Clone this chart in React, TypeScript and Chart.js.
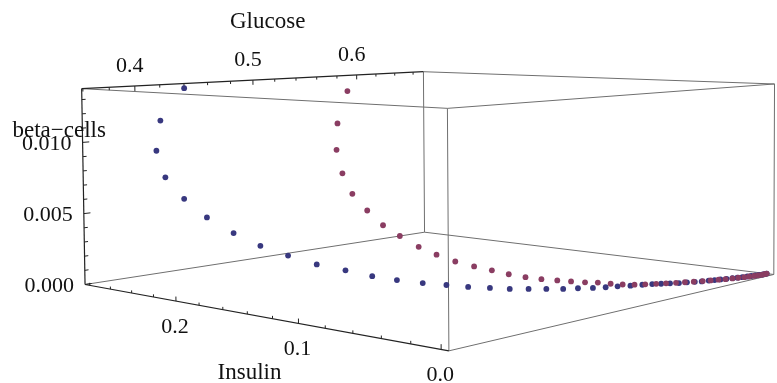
import { useEffect, useRef } from "react";
import { Chart, registerables } from "chart.js";

Chart.register(...registerables);

// ---------- data (glucose, insulin, beta-cells) ----------
const blueGlucose = [
  0.4401, 0.4201, 0.4165, 0.4235, 0.4388, 0.4579, 0.481, 0.505, 0.5231, 0.5089,
  0.5041, 0.4987, 0.498, 0.5005, 0.5047, 0.5081, 0.5142, 0.5194, 0.5269, 0.534,
  0.5407, 0.5485, 0.5553, 0.5624, 0.57, 0.5769, 0.5846, 0.5907, 0.5952, 0.6,
  0.6045, 0.6099, 0.6149, 0.619, 0.6243, 0.6283, 0.6329, 0.6373, 0.642, 0.6456,
  0.6493, 0.6536, 0.6569, 0.6602, 0.6635, 0.6668, 0.6691, 0.6715,
];
const blueInsulin = [
  0.2846, 0.2846, 0.2846, 0.2846, 0.2846, 0.2846, 0.2846, 0.2846, 0.2768, 0.2354,
  0.2048, 0.1765, 0.1551, 0.1362, 0.1209, 0.1067, 0.0949, 0.084, 0.0757, 0.0679,
  0.0605, 0.0554, 0.0494, 0.0452, 0.0419, 0.0374, 0.0341, 0.0311, 0.0277, 0.0245,
  0.0211, 0.0189, 0.0165, 0.0142, 0.0126, 0.0109, 0.0096, 0.008, 0.0067, 0.0054,
  0.0041, 0.0032, 0.0024, 0.0015, 0.0007, 0.0, 0.0, 0.0,
];
const blueBeta = [
  0.01342, 0.01115, 0.00897, 0.00697, 0.00523, 0.00364, 0.00218, 0.00091, 0, 0,
  0, 0, 0, 0, 0, 0, 0, 0, 0, 0,
  0, 0, 0, 0, 0, 0, 0, 0, 0, 0,
  0, 0, 0, 0, 0, 0, 0, 0, 0, 0,
  0, 0, 0, 0, 0, 0, 0, 0,
];
const redGlucose = [
  0.5904, 0.5801, 0.5789, 0.5846, 0.5945, 0.6097, 0.6262, 0.6442, 0.6126, 0.5933,
  0.5788, 0.5712, 0.5665, 0.5615, 0.5596, 0.5603, 0.563, 0.5657, 0.5685, 0.5731,
  0.5748, 0.5773, 0.5815, 0.587, 0.5929, 0.5984, 0.6039, 0.6094, 0.6148, 0.6203,
  0.6257, 0.6312, 0.6359, 0.641, 0.6457, 0.6501, 0.6544, 0.6585, 0.6621, 0.6654,
  0.6687, 0.6715,
];
const redInsulin = [
  0.2846, 0.2846, 0.2846, 0.2846, 0.2846, 0.2846, 0.2846, 0.2846, 0.2384, 0.2053,
  0.1765, 0.1542, 0.1357, 0.1181, 0.1034, 0.0916, 0.0815, 0.0731, 0.0647, 0.0585,
  0.0503, 0.0433, 0.0376, 0.0336, 0.0297, 0.0263, 0.0228, 0.02, 0.0172, 0.0143,
  0.0121, 0.0099, 0.0079, 0.0061, 0.0048, 0.0032, 0.0023, 0.0012, 0.0005, 0.0,
  0.0, 0.0,
];
const redBeta = [
  0.01249, 0.00992, 0.00779, 0.00583, 0.00406, 0.00253, 0.00112, 0, 0, 0,
  0, 0, 0, 0, 0, 0, 0, 0, 0, 0,
  0, 0, 0, 0, 0, 0, 0, 0, 0, 0,
  0, 0, 0, 0, 0, 0, 0, 0, 0, 0,
  0, 0,
];

// ---------- axes ----------
const glucoseRange = [0.3591, 0.6715];
const insulinRange = [-0.005, 0.2846];
const betaRange = [0, 0.01376];
const glucoseTicks = [0.4, 0.5, 0.6];
const glucoseTickLabels = ["0.4", "0.5", "0.6"];
const insulinTicks = [0.0, 0.1, 0.2];
const insulinTickLabels = ["0.0", "0.1", "0.2"];
const betaTicks = [0.0, 0.005, 0.01];
const betaTickLabels = ["0.000", "0.005", "0.010"];
const glucoseMinor = [0.36, 0.38, 0.42, 0.44, 0.46, 0.48, 0.52, 0.54, 0.56, 0.58, 0.62, 0.64, 0.66];
const insulinMinor = [0.02, 0.04, 0.06, 0.08, 0.12, 0.14, 0.16, 0.18, 0.22, 0.24, 0.26, 0.28];
const betaMinor = [0.001, 0.002, 0.003, 0.004, 0.006, 0.007, 0.008, 0.009, 0.011, 0.012, 0.013];
const axisTitles = { x: "Glucose", y: "Insulin", z: "beta\u2212cells" };

// ---------- view: where the box corners sit in the 777x383 frame ----------
type Corner = [[number, number, number], [number, number]];
const viewCorners: Corner[] = [
  [[0, 1, 1], [78, 87]],
  [[1, 1, 1], [424, 69]],
  [[1, 0, 1], [778, 81]],
  [[0, 0, 1], [449, 107]],
  [[0, 1, 0], [82, 285]],
  [[1, 1, 0], [425, 234]],
  [[1, 0, 0], [778, 276]],
  [[0, 0, 0], [449, 355]],
];

function solve(A: number[][], b: number[]): number[] {
  const n = b.length;
  const M = A.map((r, i) => [...r, b[i]]);
  for (let c = 0; c < n; c++) {
    let p = c;
    for (let r = c + 1; r < n; r++) if (Math.abs(M[r][c]) > Math.abs(M[p][c])) p = r;
    [M[c], M[p]] = [M[p], M[c]];
    for (let r = 0; r < n; r++)
      if (r !== c) {
        const f = M[r][c] / M[c][c];
        for (let k = c; k <= n; k++) M[r][k] -= f * M[c][k];
      }
  }
  return M.map((r, i) => r[n] / r[i]);
}
function fitCamera(): number[] {
  const rows: number[][] = [];
  const rhs: number[] = [];
  for (const [[u, v, w], [x, y]] of viewCorners) {
    rows.push([u, v, w, 1, 0, 0, 0, 0, -x * u, -x * v, -x * w]);
    rhs.push(x);
    rows.push([0, 0, 0, 0, u, v, w, 1, -y * u, -y * v, -y * w]);
    rhs.push(y);
  }
  const n = 11;
  const AtA = Array.from({ length: n }, () => Array(n).fill(0));
  const Atb = Array(n).fill(0);
  rows.forEach((r, k) => {
    for (let i = 0; i < n; i++) {
      Atb[i] += r[i] * rhs[k];
      for (let j = 0; j < n; j++) AtA[i][j] += r[i] * r[j];
    }
  });
  return solve(AtA, Atb);
}
const cam = fitCamera();
function projN(u: number, v: number, w: number): [number, number] {
  const d = cam[8] * u + cam[9] * v + cam[10] * w + 1;
  return [(cam[0] * u + cam[1] * v + cam[2] * w + cam[3]) / d, (cam[4] * u + cam[5] * v + cam[6] * w + cam[7]) / d];
}
const nu = (g: number) => (g - glucoseRange[0]) / (glucoseRange[1] - glucoseRange[0]);
const nv = (i: number) => (i - insulinRange[0]) / (insulinRange[1] - insulinRange[0]);
const nw = (b: number) => (b - betaRange[0]) / (betaRange[1] - betaRange[0]);
const toFrame = (gs: number[], is: number[], bs: number[]) =>
  gs.map((g, k) => {
    const [x, y] = projN(nu(g), nv(is[k]), nw(bs[k]));
    return { x, y };
  });

const BLUE = "#38387f";
const RED = "#8a3d62";
const FONT = "'Liberation Serif', 'Times New Roman', serif";

const boxPlugin = {
  id: "box3d",
  beforeDatasetsDraw(chart: any) {
    const { ctx } = chart;
    const sx = chart.scales.x;
    const sy = chart.scales.y;
    const P = (u: number, v: number, w: number): [number, number] => {
      const [x, y] = projN(u, v, w);
      return [sx.getPixelForValue(x), sy.getPixelForValue(y)];
    };
    const seg = (a: number[], b: number[], color: string, width = 1) => {
      const p = P(a[0], a[1], a[2]);
      const q = P(b[0], b[1], b[2]);
      ctx.beginPath();
      ctx.strokeStyle = color;
      ctx.lineWidth = width;
      ctx.moveTo(p[0], p[1]);
      ctx.lineTo(q[0], q[1]);
      ctx.stroke();
    };
    ctx.save();
    const A = [0, 1, 1], B = [1, 1, 1], Cc = [1, 0, 1], D = [0, 0, 1];
    const E = [0, 1, 0], F = [1, 1, 0], G = [1, 0, 0], H = [0, 0, 0];
    const grey = "#6f6f6f";
    [[B, Cc], [Cc, D], [D, A], [E, F], [F, G], [G, H], [B, F], [Cc, G], [D, H]].forEach(([a, b]) => seg(a, b, grey, 1));
    const dark = "#222";
    seg(A, B, dark, 1.2);
    seg(E, H, dark, 1.2);
    seg(A, E, dark, 1.2);
    // ticks
    glucoseTicks.forEach((g) => seg([nu(g), 1, 1], [nu(g), 1, 1 - 0.026], dark, 1));
    glucoseMinor.forEach((g) => seg([nu(g), 1, 1], [nu(g), 1, 1 - 0.015], dark, 1));
    insulinTicks.forEach((i) => seg([0, nv(i), 0], [0, nv(i), 0.022], dark, 1));
    insulinMinor.forEach((i) => seg([0, nv(i), 0], [0, nv(i), 0.013], dark, 1));
    betaTicks.forEach((b) => seg([0, 1, nw(b)], [0.016, 1, nw(b)], dark, 1));
    betaMinor.forEach((b) => seg([0, 1, nw(b)], [0.009, 1, nw(b)], dark, 1));
    ctx.restore();
  },
  afterDatasetsDraw(chart: any) {
    const { ctx } = chart;
    const sx = chart.scales.x;
    const sy = chart.scales.y;
    const P = (u: number, v: number, w: number): [number, number] => {
      const [x, y] = projN(u, v, w);
      return [sx.getPixelForValue(x), sy.getPixelForValue(y)];
    };
    ctx.save();
    ctx.fillStyle = "#111";
    ctx.font = `22px ${FONT}`;
    ctx.textAlign = "center";
    ctx.textBaseline = "middle";
    glucoseTicks.forEach((g, k) => {
      const [x, y] = P(nu(g), 1, 1);
      ctx.fillText(glucoseTickLabels[k], x - 5, y - 20);
    });
    insulinTicks.forEach((i, k) => {
      const [x, y] = P(0, nv(i), 0);
      ctx.fillText(insulinTickLabels[k], x - 1, y + 26);
    });
    ctx.textAlign = "right";
    betaTicks.forEach((b, k) => {
      const [x, y] = P(0, 1, nw(b));
      ctx.fillText(betaTickLabels[k], x - 11, y + 2);
    });
    ctx.font = `23px ${FONT}`;
    ctx.textAlign = "center";
    const [gx, gy] = P(0.5, 1, 1);
    ctx.fillText(axisTitles.x, gx - 2, gy - 57);
    const [ix, iy] = P(0, 0.5, 0);
    ctx.fillText(axisTitles.y, ix + 2, iy + 59);
    ctx.textAlign = "left";
    ctx.textBaseline = "alphabetic";
    const [bx, by] = P(0, 1, 0.75);
    ctx.fillText(axisTitles.z, bx - 70, by - 1);
    ctx.restore();
  },
};

export default function App() {
  const ref = useRef<HTMLCanvasElement>(null);
  useEffect(() => {
    const chart = new Chart(ref.current!, {
      type: "scatter",
      data: {
        datasets: [
          {
            label: "red",
            data: toFrame(redGlucose, redInsulin, redBeta),
            pointRadius: 2.9,
            pointBorderWidth: 0,
            pointBackgroundColor: RED,
            borderColor: RED,
            clip: false,
          } as any,
          {
            label: "blue",
            data: toFrame(blueGlucose, blueInsulin, blueBeta),
            pointRadius: 2.9,
            pointBorderWidth: 0,
            pointBackgroundColor: BLUE,
            borderColor: BLUE,
            clip: false,
          } as any,
        ],
      },
      options: {
        animation: false,
        responsive: true,
        maintainAspectRatio: false,
        events: [],
        layout: { padding: 0 },
        plugins: { legend: { display: false }, tooltip: { enabled: false } },
        scales: {
          x: { type: "linear", min: 0, max: 777, display: false },
          y: { type: "linear", min: 0, max: 383, reverse: true, display: false },
        },
      },
      plugins: [boxPlugin],
    });
    return () => chart.destroy();
  }, []);
  return (
    <div style={{ position: "fixed", left: 0, top: 0, width: 777, height: 383, background: "#fff" }}>
      <canvas ref={ref} />
    </div>
  );
}
